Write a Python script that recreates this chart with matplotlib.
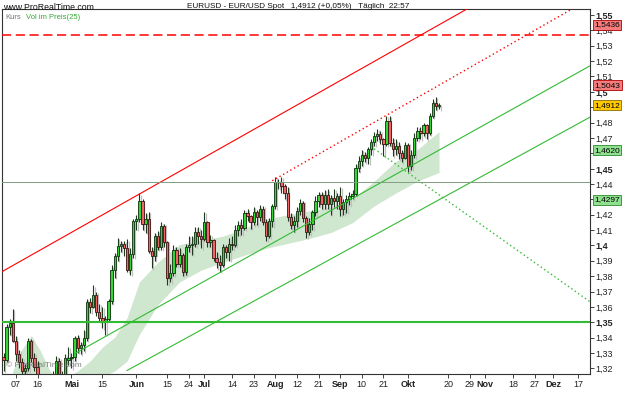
import numpy as np
import pandas as pd
import matplotlib
matplotlib.use("Agg")
import matplotlib.pyplot as plt

plt.rcParams["font.family"] = ["Liberation Sans", "DejaVu Sans"]

# daily EUR/USD bars, 2009-04-01 .. 2009-10-15 (business days)
dates = pd.bdate_range("2009-04-01", "2009-10-15")
axis_dates = pd.bdate_range("2009-04-01", "2009-12-31")

opens = [
    1.3275, 1.3255, 1.3470, 1.3495, 1.3380, 1.3290, 1.3240, 1.3180, 1.3200, 1.3375,
    1.3270, 1.3210, 1.3110, 1.3030, 1.2930, 1.2990, 1.3040, 1.3150, 1.3250, 1.3150,
    1.3080, 1.3255, 1.3265, 1.3275, 1.3395, 1.3330, 1.3355, 1.3400, 1.3630, 1.3600,
    1.3680, 1.3565, 1.3530, 1.3500, 1.3520, 1.3640, 1.3840, 1.3930, 1.3995, 1.4010,
    1.3985, 1.3840, 1.3945, 1.4160, 1.4175, 1.4290, 1.4140, 1.4170, 1.3965, 1.3930,
    1.4064, 1.3990, 1.4125, 1.4020, 1.3785, 1.3820, 1.3970, 1.3880, 1.3935, 1.3830,
    1.3990, 1.4000, 1.4010, 1.4090, 1.4060, 1.4040, 1.4150, 1.4020, 1.4035, 1.3920,
    1.3890, 1.3875, 1.3990, 1.3960, 1.4010, 1.4000, 1.4100, 1.4130, 1.4115, 1.4210,
    1.4190, 1.4150, 1.4215, 1.4185, 1.4240, 1.4150, 1.4060, 1.4160, 1.4255, 1.4410,
    1.4415, 1.4385, 1.4340, 1.4185, 1.4135, 1.4160, 1.4225, 1.4275, 1.4180, 1.4090,
    1.4140, 1.4215, 1.4290, 1.4330, 1.4270, 1.4330, 1.4270, 1.4310, 1.4290, 1.4320,
    1.4240, 1.4280, 1.4300, 1.4320, 1.4335, 1.4505, 1.4550, 1.4590, 1.4570, 1.4625,
    1.4675, 1.4715, 1.4725, 1.4690, 1.4660, 1.4810, 1.4665, 1.4630, 1.4650, 1.4600,
    1.4570, 1.4655, 1.4515, 1.4590, 1.4700, 1.4745, 1.4730, 1.4785, 1.4735, 1.4845,
    1.4930, 1.4905]
highs = [
    1.3300, 1.3490, 1.3520, 1.3585, 1.3410, 1.3320, 1.3270, 1.3230, 1.3400, 1.3390,
    1.3300, 1.3250, 1.3140, 1.3060, 1.3040, 1.3080, 1.3180, 1.3280, 1.3270, 1.3180,
    1.3290, 1.3340, 1.3300, 1.3410, 1.3420, 1.3370, 1.3450, 1.3650, 1.3660, 1.3740,
    1.3700, 1.3620, 1.3600, 1.3540, 1.3650, 1.3870, 1.3950, 1.4050, 1.4030, 1.4030,
    1.4040, 1.3980, 1.4170, 1.4200, 1.4338, 1.4300, 1.4210, 1.4220, 1.3990, 1.4080,
    1.4095, 1.4150, 1.4140, 1.4030, 1.3880, 1.4000, 1.3990, 1.3980, 1.3950, 1.4010,
    1.4060, 1.4060, 1.4120, 1.4120, 1.4100, 1.4220, 1.4160, 1.4070, 1.4040, 1.3960,
    1.3940, 1.4010, 1.4000, 1.4050, 1.4060, 1.4130, 1.4160, 1.4170, 1.4230, 1.4240,
    1.4200, 1.4250, 1.4230, 1.4260, 1.4255, 1.4170, 1.4180, 1.4270, 1.4445, 1.4430,
    1.4448, 1.4400, 1.4380, 1.4210, 1.4190, 1.4250, 1.4300, 1.4290, 1.4190, 1.4180,
    1.4230, 1.4320, 1.4350, 1.4350, 1.4360, 1.4365, 1.4330, 1.4370, 1.4340, 1.4380,
    1.4300, 1.4330, 1.4350, 1.4360, 1.4530, 1.4580, 1.4620, 1.4610, 1.4640, 1.4690,
    1.4740, 1.4760, 1.4745, 1.4700, 1.4845, 1.4843, 1.4700, 1.4690, 1.4670, 1.4620,
    1.4670, 1.4665, 1.4620, 1.4730, 1.4770, 1.4770, 1.4800, 1.4790, 1.4860, 1.4950,
    1.4965, 1.4925]
lows = [
    1.3180, 1.3240, 1.3420, 1.3370, 1.3250, 1.3200, 1.3120, 1.3160, 1.3180, 1.3240,
    1.3180, 1.3070, 1.3000, 1.2900, 1.2890, 1.2950, 1.3010, 1.3130, 1.3050, 1.3030,
    1.3060, 1.3220, 1.3200, 1.3250, 1.3300, 1.3290, 1.3310, 1.3380, 1.3560, 1.3590,
    1.3540, 1.3500, 1.3460, 1.3420, 1.3510, 1.3620, 1.3790, 1.3900, 1.3960, 1.3930,
    1.3830, 1.3810, 1.3920, 1.4100, 1.4150, 1.4100, 1.4080, 1.3950, 1.3850, 1.3900,
    1.3970, 1.3970, 1.3990, 1.3745, 1.3760, 1.3800, 1.3860, 1.3860, 1.3800, 1.3810,
    1.3960, 1.3940, 1.3990, 1.4010, 1.3980, 1.4030, 1.3990, 1.3990, 1.3900, 1.3850,
    1.3830, 1.3860, 1.3920, 1.3900, 1.3970, 1.3990, 1.4060, 1.4070, 1.4100, 1.4160,
    1.4110, 1.4130, 1.4130, 1.4160, 1.4130, 1.4030, 1.4050, 1.4120, 1.4240, 1.4370,
    1.4340, 1.4300, 1.4160, 1.4110, 1.4090, 1.4120, 1.4200, 1.4150, 1.4050, 1.4070,
    1.4100, 1.4190, 1.4250, 1.4240, 1.4240, 1.4240, 1.4200, 1.4250, 1.4240, 1.4190,
    1.4200, 1.4210, 1.4260, 1.4300, 1.4320, 1.4480, 1.4520, 1.4540, 1.4530, 1.4590,
    1.4650, 1.4680, 1.4660, 1.4580, 1.4650, 1.4650, 1.4580, 1.4590, 1.4560, 1.4540,
    1.4560, 1.4480, 1.4490, 1.4570, 1.4680, 1.4690, 1.4710, 1.4690, 1.4720, 1.4830,
    1.4880, 1.4885]
closes = [
    1.3255, 1.3470, 1.3495, 1.3380, 1.3290, 1.3240, 1.3180, 1.3200, 1.3375, 1.3270,
    1.3210, 1.3110, 1.3030, 1.2930, 1.2990, 1.3040, 1.3150, 1.3250, 1.3150, 1.3080,
    1.3270, 1.3265, 1.3275, 1.3395, 1.3330, 1.3355, 1.3400, 1.3630, 1.3600, 1.3680,
    1.3565, 1.3530, 1.3500, 1.3520, 1.3640, 1.3840, 1.3930, 1.3995, 1.4010, 1.3985,
    1.3840, 1.3945, 1.4160, 1.4175, 1.4290, 1.4140, 1.4170, 1.3965, 1.3930, 1.4064,
    1.3990, 1.4125, 1.4020, 1.3785, 1.3820, 1.3970, 1.3880, 1.3935, 1.3830, 1.3990,
    1.4000, 1.4010, 1.4090, 1.4060, 1.4040, 1.4150, 1.4020, 1.4035, 1.3920, 1.3890,
    1.3875, 1.3990, 1.3960, 1.4010, 1.4000, 1.4100, 1.4130, 1.4115, 1.4210, 1.4190,
    1.4150, 1.4215, 1.4185, 1.4240, 1.4150, 1.4060, 1.4160, 1.4255, 1.4410, 1.4415,
    1.4385, 1.4340, 1.4185, 1.4135, 1.4160, 1.4225, 1.4275, 1.4180, 1.4090, 1.4140,
    1.4215, 1.4290, 1.4330, 1.4270, 1.4330, 1.4270, 1.4310, 1.4290, 1.4320, 1.4240,
    1.4280, 1.4300, 1.4320, 1.4335, 1.4505, 1.4550, 1.4590, 1.4570, 1.4625, 1.4675,
    1.4715, 1.4725, 1.4690, 1.4660, 1.4810, 1.4665, 1.4630, 1.4650, 1.4600, 1.4570,
    1.4655, 1.4515, 1.4590, 1.4700, 1.4745, 1.4730, 1.4785, 1.4735, 1.4845, 1.4930,
    1.4905, 1.4912]

# "Vol im Preis(25)" band, read at a few bars
band_idx = [3, 6, 9, 12, 15, 18, 21, 24, 28, 32, 36, 40, 44, 50, 57, 64, 71, 78,
            85, 92, 99, 106, 113, 120, 127, 134, 141]
band_upper = [1.3183, 1.3324, 1.3414, 1.3311, 1.3183, 1.3099, 1.3144, 1.3183, 1.3247,
              1.3337, 1.3402, 1.3530, 1.3762, 1.3891, 1.4006, 1.4032, 1.4060, 1.4110,
              1.4170, 1.4200, 1.4225, 1.4250, 1.4300, 1.4418, 1.4547, 1.4624, 1.4740]
band_lower = [1.3050, 1.3050, 1.3050, 1.3050, 1.3050, 1.3040, 1.3035, 1.3035, 1.3099,
              1.3144, 1.3183, 1.3247, 1.3421, 1.3614, 1.3762, 1.3839, 1.3891, 1.3936,
              1.3981, 1.4013, 1.4045, 1.4084, 1.4148, 1.4257, 1.4341, 1.4418, 1.4475]

# trend lines: (bar, price) pairs
red_channel = [(0, 1.3835), (141, 1.5436)]
red_dotted = [(87, 1.4421), (141, 1.5043)]
green_upper = [(23, 1.3295), (141, 1.4620)]
green_lower = [(40, 1.3186), (141, 1.4297)]
green_dotted = [(120, 1.4629), (190, 1.3632)]
red_dashed_level = 1.5370
grey_level = 1.4416
green_level = 1.35

tick_dates = ["2009-04-07", "2009-04-16", "2009-05-01", "2009-05-15", "2009-06-01",
              "2009-06-15", "2009-06-24", "2009-07-01", "2009-07-14", "2009-07-23",
              "2009-08-03", "2009-08-12", "2009-08-21", "2009-09-01", "2009-09-10",
              "2009-09-21", "2009-10-01", "2009-10-20", "2009-10-29", "2009-11-05",
              "2009-11-18", "2009-11-27", "2009-12-07", "2009-12-17"]
tick_labels = ["07", "16", "Mai", "15", "Jun", "15", "24", "Jul", "14", "23", "Aug",
               "12", "21", "Sep", "10", "21", "Okt", "20", "29", "Nov", "18", "27",
               "Dez", "17"]
months = {"Mai", "Jun", "Jul", "Aug", "Sep", "Okt", "Nov", "Dez"}

marker_vals = [1.5436, 1.5043, 1.4912, 1.4620, 1.4297]
marker_face = ["#f47c7c", "#f47c7c", "#ffc800", "#8fe08f", "#8fe08f"]
marker_edge = ["#b00000", "#b00000", "#8a6d00", "#2a8a2a", "#2a8a2a"]
# price labels hidden behind the value markers
hidden_ticks = [1.43, 1.46, 1.49]

fig = plt.figure(figsize=(6.25, 4.17), dpi=100)
ax = fig.add_axes([2 / 625, 1 - 374 / 417, 588 / 625, 365 / 417])

x = np.arange(len(dates))
o = np.array(opens); h = np.array(highs); l = np.array(lows); c = np.array(closes)
up = c >= o

# band
ax.fill_between(band_idx, band_lower, band_upper, color="#cfe6cf", lw=0, zorder=1)

# shadows
bot = np.minimum(o, c); hgt = np.maximum(np.abs(c - o), 0.0004)
ax.vlines(x + 0.5, l - 0.0008, h - 0.0008, color="#c0c0c0", lw=0.9, zorder=2)
ax.bar(x + 0.5, hgt, 0.72, bot - 0.0008, color="#c0c0c0", lw=0, zorder=2)

# candles
ax.vlines(x, l, h, color="#1e3a1e", lw=0.8, zorder=3)
ax.bar(x[up], hgt[up], 0.74, bot[up], color="#33d633", edgecolor="#0f2f0f", lw=0.6, zorder=4)
ax.bar(x[~up], hgt[~up], 0.74, bot[~up], color="#ef6464", edgecolor="#3a1212", lw=0.6, zorder=4)

# lines
ax.axline(*red_channel, color="#ff0000", lw=0.8, zorder=5)
x_end = 195
def ext(pts, x1):
    (a, pa), (b, pb) = pts
    k = (pb - pa) / (b - a)
    return [a, x1], [pa, pa + k * (x1 - a)]
xx, yy = ext(red_dotted, x_end)
ax.plot(xx, yy, color="#ff0000", lw=1.0, ls=(0, (1, 2)), zorder=5)
xx, yy = ext(green_upper, x_end)
ax.plot(xx, yy, color="#33bb33", lw=0.8, zorder=5)
xx, yy = ext(green_lower, x_end)
ax.plot(xx, yy, color="#33bb33", lw=0.8, zorder=5)
ax.plot([p[0] for p in green_dotted], [p[1] for p in green_dotted],
        color="#33bb33", lw=1.0, ls=(0, (1, 2)), zorder=5)
ax.axhline(red_dashed_level, color="#ff0000", lw=1.1, ls=(0, (6, 3)), zorder=5)
ax.axhline(grey_level, color="#7f9f7f", lw=0.7, zorder=5)
ax.axhline(green_level, color="#33bb33", lw=1.5, zorder=5)

ax.set_xlim(-0.5, 189.9)
ax.set_ylim(1.3163, 1.5539)

# right price axis
yt = np.round(np.arange(1.32, 1.5501, 0.01), 2)
ax.yaxis.tick_right()
ax.set_yticks(yt)
ylabs = []
for v in yt:
    s = ("%.2f" % v).rstrip("0").replace(".", ",")
    ylabs.append("" if v in hidden_ticks else s)
ax.set_yticklabels(ylabs, fontsize=6.5)
for t, v in zip(ax.get_yticklabels(), yt):
    if round(v * 100) % 5 == 0:
        t.set_fontweight("bold")
ax.tick_params(axis="y", length=3, width=0.6, pad=1, colors="#222222")

# bottom date axis
pos = [axis_dates.get_loc(pd.Timestamp(d)) for d in tick_dates]
ax.set_xticks(pos)
ax.set_xticklabels(tick_labels, fontsize=6.5)
for t, s in zip(ax.get_xticklabels(), tick_labels):
    if s in months:
        t.set_fontweight("bold")
ax.tick_params(axis="x", length=3, width=0.6, pad=1, colors="#222222")

for sp in ax.spines.values():
    sp.set_linewidth(0.8)
    sp.set_color("#333333")

# value markers on the right axis
for v, fc, ec in zip(marker_vals, marker_face, marker_edge):
    ax.annotate(("%.4f" % v).replace(".", ","), xy=(1.0, v), xycoords=("axes fraction", "data"),
                xytext=(3, 0), textcoords="offset points", fontsize=6, va="center", ha="left",
                bbox=dict(boxstyle="square,pad=0.18", fc=fc, ec=ec, lw=0.6),
                annotation_clip=False, zorder=10)

# texts
fig.text(3 / 625, 1 - 7 / 417, "www.ProRealTime.com", fontsize=6.3, va="center", ha="left", color="#111111")
fig.text(298 / 625, 1 - 7 / 417, "EURUSD - EUR/USD Spot   1,4912 (+0,05%)   Täglich  22:57",
         fontsize=5.9, va="center", ha="center", color="#111111")
ax.text(0.006, 0.978, "Kurs", transform=ax.transAxes, fontsize=5.5, color="#777777", va="center")
ax.text(0.040, 0.978, "Vol im Preis(25)", transform=ax.transAxes, fontsize=5.5, color="#33aa33", va="center")
ax.text(0.006, 0.022, "© ProRealTime.com", transform=ax.transAxes, fontsize=6, color="#666666",
        va="center", alpha=0.8, zorder=6)

fig.savefig("out.png", dpi=100)
